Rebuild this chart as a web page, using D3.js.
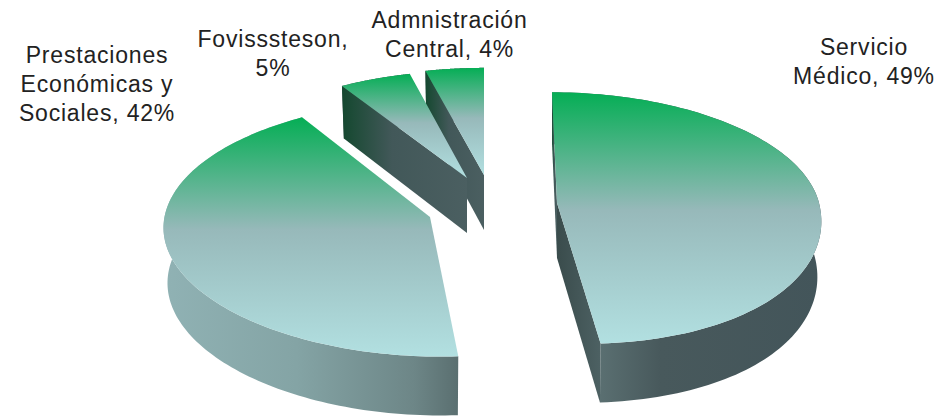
<!DOCTYPE html>
<html>
<head>
<meta charset="utf-8">
<script src="https://cdn.jsdelivr.net/npm/d3@7"></script>
<style>
  html, body { margin: 0; background: #fff; }
  svg { display: block; }
  text { font-family: "Liberation Sans", Arial, sans-serif; font-size: 23px; fill: #222; letter-spacing: .8px; }
</style>
</head>
<body>
<div id="chart"></div>
<script>
// the data
const categories = ["Servicio Médico", "Prestaciones Económicas y Sociales", "Fovisssteson", "Admnistración Central"];
const values = [49, 42, 5, 4];
const labelLines = [
    ["Servicio", "Médico, 49%"],
    ["Prestaciones", "Económicas y", "Sociales, 42%"],
    ["Fovisssteson,", "5%"],
    ["Admnistración", "Central, 4%"]
];

// where each exploded slice sits, its size on the page and how its tips lean
const apexX = [557, 430, 467, 484];
const apexY = [203, 217, 178, 175];
const lean = [25, 10, 0, 0];
const leanBack = [-5, 6, 0, 0];
const radiusX = [262, 265.5, 257, 263];
const radiusY = [124, 127, 120, 120];
const perspective = [0.12, 0.09, 0.12, 0.12];
const labelX = [864, 97, 273, 449.5];
const labelY = [55, 63, 47, 28];

const width = 949, height = 416;
const depth = 55;

const svg = d3.select("#chart").append("svg")
    .attr("width", width)
    .attr("height", height);
const defs = svg.append("defs");

// vertical gradient of the top faces
const topGrad = defs.append("linearGradient")
    .attr("id", "top-face")
    .attr("x1", 0).attr("y1", 0).attr("x2", 0).attr("y2", 1);
[[0, "#05ae55"], [0.47, "#97b9ba"], [1, "#b2e0e1"]].forEach(function(s) {
    topGrad.append("stop").attr("offset", s[0]).attr("stop-color", s[1]);
});

// horizontal gradients of the side walls
const addSideGrad = (id, stops) => {
    const g = defs.append("linearGradient")
        .attr("id", id)
        .attr("x1", 0).attr("y1", 0).attr("x2", 1).attr("y2", 0);
    stops.forEach(function(s) {
        g.append("stop").attr("offset", s[0]).attr("stop-color", s[1]);
    });
};
addSideGrad("rim-0", [[0, "#5c7172"], [0.18, "#5a6f71"], [0.4, "#48595c"], [1, "#43555a"]]);
addSideGrad("rim-1", [[0, "#90b2b4"], [0.45, "#84a4a5"], [0.85, "#6d8687"], [1, "#5a6f70"]]);
addSideGrad("rim-2", [[0, "#3d4f4f"], [1, "#3d4f4f"]]);
addSideGrad("rim-3", [[0, "#3d4f4f"], [1, "#3d4f4f"]]);
addSideGrad("wall-dark", [[0, "#14482f"], [0.4, "#425859"], [1, "#4b5f61"]]);
addSideGrad("wall-plain", [[0, "#3a4c4c"], [1, "#4d6163"]]);

// pie angles, clockwise from the top of the ellipse
const pie = d3.pie().sort(null).value(function(d) { return d; });
const arcs = pie(values);

// angle on the pie -> position on the page
const project = (i, angle, r, bottom) => {
    const u = Math.sin(angle) * r, v = -Math.cos(angle) * r;
    const s = 1 / (1 - perspective[i] * v);
    const shift = (v > 0 ? lean[i] : leanBack[i]) * v * v;
    const sx = bottom ? 0.985 : 1;
    const sy = bottom ? 1.028 : 1;
    return [
        apexX[i] + (radiusX[i] * u * s + shift) * sx,
        apexY[i] + radiusY[i] * v * s * sy + (bottom ? depth : 0)
    ];
};

const line = d3.line().curve(d3.curveLinear);

// back slices first so the front ones cover them
[3, 2, 1, 0].forEach(function(i) {
    const a = arcs[i];
    const g = svg.append("g").attr("class", "slice").attr("data-name", categories[i]);
    const steps = d3.range(0, 1.0001, 1 / 120).map(function(t) {
        return a.startAngle + (a.endAngle - a.startAngle) * t;
    });

    // outer wall
    const rimTop = steps.map(function(t) { return project(i, t, 1, false); });
    const rimBottom = steps.map(function(t) { return project(i, t, 1, true); });
    g.append("path")
        .attr("d", line(rimTop.concat(rimBottom.slice().reverse())) + "Z")
        .attr("fill", `url(#rim-${i})`);

    // the two cut walls, only the ones facing the viewer
    const wall = (angle) => [
        project(i, 0, 0, false),
        project(i, angle, 1, false),
        project(i, angle, 1, true),
        project(i, 0, 0, true)
    ];
    const startWall = wall(a.startAngle), endWall = wall(a.endAngle);
    if (d3.polygonArea(startWall) > 0) {
        g.append("path")
            .attr("d", line(startWall) + "Z")
            .attr("fill", "url(#wall-dark)");
    }
    if (d3.polygonArea(endWall) < 0) {
        g.append("path")
            .attr("d", line(endWall) + "Z")
            .attr("fill", "url(#wall-plain)");
    }

    // top face
    g.append("path")
        .attr("d", line([project(i, 0, 0, false)].concat(rimTop)) + "Z")
        .attr("fill", "url(#top-face)");
});

// labels
labelLines.forEach(function(lines, i) {
    const t = svg.append("text")
        .attr("text-anchor", "middle");
    lines.forEach(function(l, j) {
        t.append("tspan")
            .attr("x", labelX[i])
            .attr("y", labelY[i] + j * 29)
            .text(l);
    });
});
</script>
</body>
</html>
